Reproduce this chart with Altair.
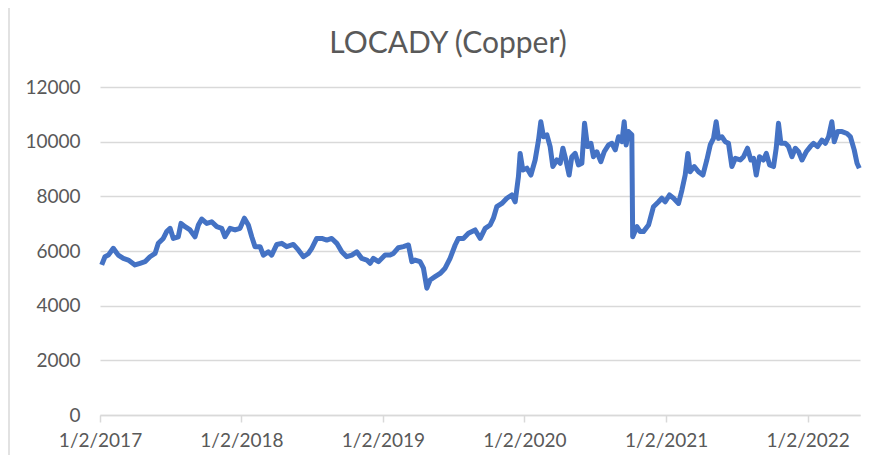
import altair as alt
import pandas as pd

# decimal years (2017.0 = 2 Jan 2017) and LOCADY copper values
years = [
    2017.012, 2017.035, 2017.059, 2017.094, 2017.129, 2017.165, 2017.200, 2017.247, 2017.283, 2017.318,
    2017.353, 2017.389, 2017.412, 2017.447, 2017.471, 2017.495, 2017.518, 2017.553, 2017.572, 2017.601,
    2017.636, 2017.671, 2017.695, 2017.719, 2017.754, 2017.789, 2017.825, 2017.860, 2017.883, 2017.919,
    2017.954, 2017.989, 2018.020, 2018.048, 2018.072, 2018.095, 2018.131, 2018.154, 2018.189, 2018.213,
    2018.249, 2018.284, 2018.319, 2018.366, 2018.401, 2018.437, 2018.472, 2018.496, 2018.531, 2018.567,
    2018.602, 2018.637, 2018.673, 2018.708, 2018.743, 2018.779, 2018.814, 2018.849, 2018.885, 2018.908,
    2018.931, 2018.967, 2018.979, 2019.014, 2019.049, 2019.073, 2019.108, 2019.143, 2019.179, 2019.203,
    2019.226, 2019.261, 2019.285, 2019.309, 2019.332, 2019.367, 2019.403, 2019.438, 2019.473, 2019.509,
    2019.532, 2019.567, 2019.603, 2019.650, 2019.686, 2019.721, 2019.756, 2019.779, 2019.803, 2019.839,
    2019.874, 2019.909, 2019.933, 2019.956, 2019.968, 2019.987, 2020.016, 2020.044, 2020.074, 2020.098,
    2020.114, 2020.133, 2020.157, 2020.180, 2020.199, 2020.227, 2020.251, 2020.270, 2020.291, 2020.314,
    2020.333, 2020.357, 2020.380, 2020.404, 2020.423, 2020.444, 2020.468, 2020.486, 2020.510, 2020.538,
    2020.562, 2020.592, 2020.616, 2020.640, 2020.663, 2020.687, 2020.703, 2020.717, 2020.733, 2020.757,
    2020.763, 2020.793, 2020.816, 2020.839, 2020.875, 2020.910, 2020.946, 2020.969, 2020.993, 2021.023,
    2021.052, 2021.087, 2021.111, 2021.134, 2021.153, 2021.169, 2021.198, 2021.228, 2021.259, 2021.287,
    2021.311, 2021.334, 2021.353, 2021.369, 2021.393, 2021.417, 2021.440, 2021.464, 2021.488, 2021.523,
    2021.546, 2021.574, 2021.598, 2021.617, 2021.636, 2021.659, 2021.687, 2021.707, 2021.730, 2021.758,
    2021.777, 2021.793, 2021.810, 2021.841, 2021.864, 2021.888, 2021.912, 2021.935, 2021.959, 2021.989,
    2022.018, 2022.041, 2022.069, 2022.100, 2022.124, 2022.147, 2022.170, 2022.187, 2022.211, 2022.242,
    2022.277, 2022.301, 2022.328, 2022.348, 2022.364,
]
values = [
    5490, 5790, 5850, 6100, 5850, 5730, 5670, 5490, 5550, 5610,
    5790, 5910, 6280, 6460, 6710, 6830, 6460, 6520, 7010, 6890,
    6770, 6520, 6950, 7170, 7010, 7070, 6890, 6830, 6520, 6830,
    6770, 6830, 7200, 6950, 6520, 6160, 6160, 5850, 5970, 5850,
    6240, 6280, 6160, 6240, 6040, 5790, 5910, 6100, 6460, 6460,
    6400, 6460, 6280, 5970, 5790, 5850, 5970, 5730, 5670, 5550,
    5730, 5610, 5670, 5850, 5850, 5910, 6120, 6160, 6220, 5610,
    5670, 5610, 5370, 4640, 4940, 5060, 5180, 5370, 5730, 6220,
    6460, 6460, 6650, 6770, 6460, 6830, 6950, 7200, 7620, 7740,
    7930, 8050, 7800, 8720, 9570, 8960, 9030, 8780, 9330, 10060,
    10730, 10180, 10250, 9820, 9090, 9330, 9210, 9760, 9330, 8780,
    9450, 9570, 9150, 9210, 10670, 9820, 9940, 9450, 9630, 9270,
    9630, 9880, 9940, 9700, 10180, 10000, 10730, 9880, 10370, 10250,
    6520, 6890, 6710, 6710, 6950, 7620, 7800, 7930, 7800, 8050,
    7930, 7740, 8230, 8780, 9570, 8900, 9090, 8900, 8780, 9330,
    9880, 10120, 10730, 10120, 10180, 10000, 9940, 9090, 9390, 9330,
    9450, 9760, 9330, 9390, 8780, 9450, 9330, 9570, 9150, 9090,
    9760, 10670, 9940, 9940, 9820, 9450, 9760, 9630, 9330, 9630,
    9820, 9940, 9820, 10060, 9940, 10180, 10730, 10000, 10370, 10370,
    10300, 10180, 9700, 9210, 9030,
]

x_tick_years = [2017, 2018, 2019, 2020, 2021, 2022]
y_ticks = [0, 2000, 4000, 6000, 8000, 10000, 12000]
title_text = "LOCADY (Copper)"

base = pd.Timestamp("2017-01-02")
dates = [base + pd.to_timedelta((y - 2017.0) * 365.25, unit="D") for y in years]
df = pd.DataFrame({
    "date": [d.strftime("%Y-%m-%dT%H:%M:%S") for d in dates],
    "value": values,
})

FONT = "Lato"
GREY_TXT = "#595959"
GRID = "#d9d9d9"

x_axis = alt.Axis(
    values=[alt.DateTime(year=y, month=1, date=2) for y in x_tick_years],
    format="%-m/%-d/%Y",
    title=None,
    grid=False,
    domainColor=GRID,
    domainWidth=1.5,
    tickColor=GRID,
    tickWidth=1.5,
    tickSize=7,
    labelFont=FONT,
    labelFontSize=19,
    labelColor=GREY_TXT,
    labelPadding=9,
    labelFlush=False,
)
y_axis = alt.Axis(
    values=y_ticks,
    format="d",
    title=None,
    grid=True,
    gridColor=GRID,
    gridWidth=1.5,
    domain=False,
    ticks=False,
    labelFont=FONT,
    labelFontSize=19,
    labelColor=GREY_TXT,
    labelPadding=20,
)

line = alt.Chart(df).mark_line(color="#4472C4", strokeWidth=5, strokeJoin="round").encode(
    x=alt.X("date:T", axis=x_axis,
            scale=alt.Scale(domain=[alt.DateTime(year=2017, month=1, date=2),
                                    alt.DateTime(year=2022, month=5, date=17)], nice=False)),
    y=alt.Y("value:Q", axis=y_axis, scale=alt.Scale(domain=[0, 12000], nice=False)),
)

title = alt.Chart(pd.DataFrame({"t": [title_text]})).mark_text(
    font=FONT, fontSize=30, color=GREY_TXT, align="center", baseline="alphabetic"
).encode(text="t:N", x=alt.value(348), y=alt.value(-34))

border = alt.Chart(pd.DataFrame({"a": [0]})).mark_rule(color=GRID, strokeWidth=1.5, clip=False).encode(
    x=alt.value(-91), y=alt.value(-87), y2=alt.value(380)
)

chart = alt.layer(border, line, title).properties(
    width=760,
    height=328,
    padding={"left": 92, "top": 79, "right": 7, "bottom": 40},
    autosize=alt.AutoSizeParams(type="none"),
).configure_view(stroke=None)

chart.save("out.html", embed_options={"renderer": "svg", "actions": False})
